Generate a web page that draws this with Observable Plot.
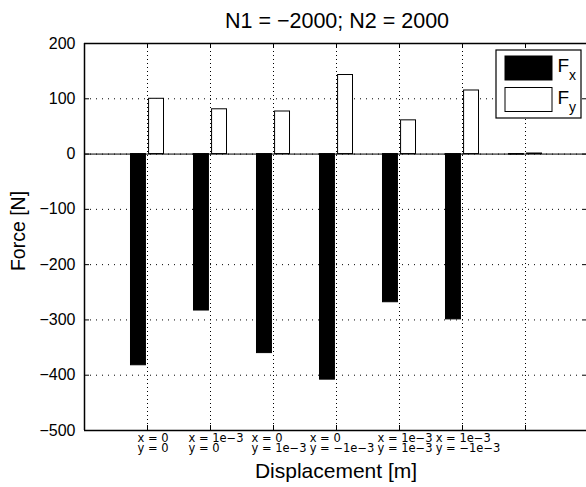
<!DOCTYPE html>
<html><head><meta charset="utf-8">
<script src="https://cdn.jsdelivr.net/npm/d3@7"></script>
<script src="https://cdn.jsdelivr.net/npm/@observablehq/plot@0.6"></script>
<style>
body{margin:0;background:#fff}
#chart svg{font-family:"Liberation Sans",Arial,Helvetica,sans-serif}
</style>
</head><body><div id="chart"></div>
<script>
// ---- data ----
const positions = [1, 2, 3, 4, 5, 6, 7];
const labelX = ["x = 0", "x = 1e\u22123", "x = 0", "x = 0", "x = 1e\u22123", "x = 1e\u22123", ""];
const labelY = ["y = 0", "y = 0", "y = 1e\u22123", "y = \u22121e\u22123", "y = 1e\u22123", "y = \u22121e\u22123", ""];
const forceX = [-382, -283, -360, -408, -268, -299, -1];
const forceY = [100, 81, 77, 143, 61, 115, 1];
const yTicks = [-500, -400, -300, -200, -100, 0, 100, 200];
const seriesNames = ["x", "y"];
const titleText = "N1 = \u22122000; N2 = 2000";
const xLabel = "Displacement [m]";
const yLabel = "Force [N]";

// ---- layout ----
const W = 586, H = 487, L = 84, T = 43, B = 430, R = 588;
const FONT = "'Liberation Sans', Arial, Helvetica, sans-serif";
const TICKFONT = "'DejaVu Sans', sans-serif";
const TICKSIZE = 11.5;
const fmt = d => d < 0 ? "\u2212" + Math.abs(d) : String(d);

const ctx = document.createElement("canvas").getContext("2d");
ctx.font = `${TICKSIZE}px 'DejaVu Sans'`;
const blockWidth = (a, b) => Math.max(ctx.measureText(a).width, ctx.measureText(b).width);

const xDom = [0, 8], yDom = [-500, 200];
const pxPerX = (R - L) / (xDom[1] - xDom[0]);
const pxPerY = (B - T) / (yDom[1] - yDom[0]);
const rows = positions.map((p, i) => ({
  p, fx: forceX[i], fy: forceY[i], lx: labelX[i], ly: labelY[i],
  lpos: p + (-blockWidth(labelX[i], labelY[i]) / 2 + 5.5) / pxPerX
}));
const tickLen = 5;
const dx = tickLen / pxPerX, dy = tickLen / pxPerY;
const grid = {stroke: "#000", strokeOpacity: 1, strokeWidth: 1};

const plot = Plot.plot({
  width: W, height: H,
  marginLeft: L, marginTop: T, marginBottom: H - B, marginRight: 0,
  x: {domain: xDom, range: [L, R], axis: null},
  y: {domain: yDom, axis: null},
  style: {fontFamily: FONT, background: "white"},
  marks: [
    Plot.gridY(yTicks.filter(v => v > yDom[0] && v < yDom[1]), {...grid, strokeDasharray: "1,5"}),
    Plot.gridX(positions, {...grid, strokeDasharray: "1,3"}),
    Plot.rectY(rows, {x1: d => d.p - 0.262, x2: d => d.p - 0.025, y1: 0, y2: "fx", fill: "black", stroke: "black", strokeWidth: 1}),
    Plot.rectY(rows, {x1: d => d.p + 0.025, x2: d => d.p + 0.262, y1: 0, y2: "fy", fill: "white", stroke: "black", strokeWidth: 1}),
    Plot.ruleY([0], {stroke: "black", strokeWidth: 1}),
    // box
    Plot.ruleX([xDom[0], xDom[1]], {y1: yDom[0], y2: yDom[1], stroke: "black", strokeWidth: 1.5}),
    Plot.ruleY([yDom[0], yDom[1]], {x1: xDom[0], x2: xDom[1], stroke: "black", strokeWidth: 1.5}),
    // inward ticks
    Plot.ruleY(yTicks, {x1: xDom[0], x2: xDom[0] + dx, stroke: "black"}),
    Plot.ruleY(yTicks, {x1: xDom[1] - dx, x2: xDom[1], stroke: "black"}),
    Plot.ruleX(positions, {y1: yDom[0], y2: yDom[0] + dy, stroke: "black"}),
    Plot.ruleX(positions, {y1: yDom[1] - dy, y2: yDom[1], stroke: "black"}),
    Plot.axisY({ticks: yTicks, tickSize: 0, tickPadding: 9, fontSize: 16, tickFormat: fmt, fill: "black"}),
    Plot.text(rows, {x: "lpos", y: yDom[0], text: d => d.lx + "\n" + d.ly, textAnchor: "start", lineAnchor: "top",
      lineHeight: 0.9, fontSize: TICKSIZE, fontFamily: TICKFONT, dy: 4.3, fill: "black"})
  ]
});

document.getElementById("chart").appendChild(plot);
const svg = d3.select(plot);

svg.append("text").attr("x", 337).attr("y", 27.5).attr("text-anchor", "middle")
  .attr("font-size", 21.5).attr("font-family", FONT).attr("fill", "black").text(titleText);
svg.append("text").attr("x", 336).attr("y", 478).attr("text-anchor", "middle")
  .attr("font-size", 21).attr("font-family", FONT).attr("fill", "black").text(xLabel);
svg.append("text").attr("transform", "translate(25,231) rotate(-90)").attr("text-anchor", "middle")
  .attr("font-size", 19.5).attr("font-family", FONT).attr("fill", "black").text(yLabel);

// legend
const lg = svg.append("g").attr("font-family", FONT).attr("text-anchor", "start");
lg.append("rect").attr("x", 496).attr("y", 50).attr("width", 85).attr("height", 68)
  .attr("fill", "white").attr("stroke", "black").attr("stroke-width", 1.2);
const swatches = [{fill: "black", y: 56}, {fill: "white", y: 87.5}];
seriesNames.forEach((s, i) => {
  const sw = swatches[i];
  lg.append("rect").attr("x", 505).attr("y", sw.y).attr("width", 47).attr("height", 24)
    .attr("fill", sw.fill).attr("stroke", "black").attr("stroke-width", 1);
  const t = lg.append("text").attr("x", 557.5).attr("y", sw.y + 16).attr("font-size", 19)
    .attr("text-anchor", "start").attr("fill", "black");
  t.append("tspan").text("F");
  t.append("tspan").attr("font-size", 14).attr("dy", 8).text(s);
});
</script>
</body></html>
